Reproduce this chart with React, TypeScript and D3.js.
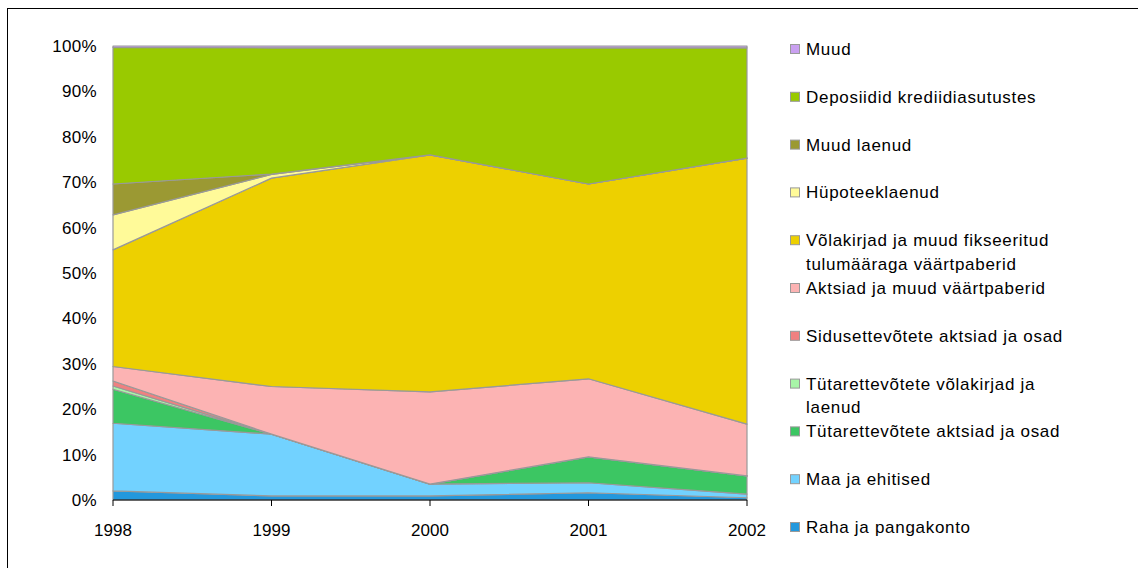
import React from "react";
import * as d3 from "d3";

const years = ["1998", "1999", "2000", "2001", "2002"];

// series values (% of total), bottom to top
const raha = [2.0, 0.9, 0.9, 1.6, 0.5];
const maa = [14.9, 13.6, 2.6, 2.2, 0.8];
const tutarAktsiad = [7.5, 0, 0, 5.7, 4.0];
const tutarVolakirjad = [0.7, 0, 0, 0, 0];
const sidusAktsiad = [1.1, 0, 0, 0, 0];
const aktsiad = [3.2, 10.5, 20.3, 17.2, 11.4];
const volakirjad = [25.7, 45.9, 52.2, 42.9, 58.6];
const hupoteek = [7.7, 0.8, 0, 0, 0];
const muudLaenud = [6.8, 0.1, 0, 0, 0];
const deposiidid = [30.1, 27.8, 23.6, 30.0, 24.3];
const muud = [0.3, 0.4, 0.4, 0.4, 0.4];

const yTicks = [0, 0.1, 0.2, 0.3, 0.4, 0.5, 0.6, 0.7, 0.8, 0.9, 1.0];

const series = [
  { key: "raha", values: raha, color: "#2398DD", label: ["Raha ja pangakonto"] },
  { key: "maa", values: maa, color: "#72D2FF", label: ["Maa ja ehitised"] },
  { key: "tutA", values: tutarAktsiad, color: "#3CC663", label: ["Tütarettevõtete aktsiad ja osad"] },
  { key: "tutV", values: tutarVolakirjad, color: "#A8F5A8", label: ["Tütarettevõtete võlakirjad ja", "laenud"] },
  { key: "sidus", values: sidusAktsiad, color: "#F08080", label: ["Sidusettevõtete aktsiad ja osad"] },
  { key: "aktsiad", values: aktsiad, color: "#FCB3B3", label: ["Aktsiad ja muud väärtpaberid"] },
  { key: "volak", values: volakirjad, color: "#EDD000", label: ["Võlakirjad ja muud fikseeritud", "tulumääraga väärtpaberid"] },
  { key: "hupo", values: hupoteek, color: "#FFFA99", label: ["Hüpoteeklaenud"] },
  { key: "muudL", values: muudLaenud, color: "#9B9933", label: ["Muud laenud"] },
  { key: "depo", values: deposiidid, color: "#99CA00", label: ["Deposiidid krediidiasutustes"] },
  { key: "muud", values: muud, color: "#C9A0F0", label: ["Muud"] },
];

export default function App() {
  const left = 113, right = 747, top = 46, bottom = 500;
  const x = d3.scalePoint<string>().domain(years).range([left, right]);
  const y = d3.scaleLinear().domain([0, 1]).range([bottom, top]);

  const rows = years.map((yr, i) => {
    const r: any = { year: yr };
    series.forEach((s) => (r[s.key] = s.values[i]));
    return r;
  });
  const stacked = d3
    .stack<any>()
    .keys(series.map((s) => s.key))
    .offset(d3.stackOffsetExpand)(rows);

  const area = d3
    .area<any>()
    .x((d) => x(d.data.year) as number)
    .y0((d) => y(d[0]))
    .y1((d) => y(d[1]));

  const fmt = d3.format(".0%");
  const font = "'Liberation Sans', Arial, sans-serif";
  const legendItems = [...series].reverse();

  return (
    <div style={{ position: "absolute", left: 0, top: 0 }}>
      <svg width={1138} height={568} style={{ display: "block", background: "#fff" }}>
        <rect x={7.5} y={8.5} width={1300} height={700} fill="#fff" stroke="#000" strokeWidth={1} />
        {stacked.map((layer, i) => (
          <path
            key={series[i].key}
            d={area(layer as any) || ""}
            fill={series[i].color}
            stroke="#999999"
            strokeWidth={1.2}
            strokeLinejoin="round"
          />
        ))}
        <line x1={left} x2={right} y1={bottom} y2={bottom} stroke="#000" strokeWidth={1.2} />
        {years.map((yr) => (
          <g key={yr}>
            <line x1={x(yr)} x2={x(yr)} y1={bottom} y2={bottom + 6} stroke="#000" strokeWidth={1} />
            <text x={x(yr)} y={536} textAnchor="middle" fontFamily={font} fontSize={17} fill="#000">
              {yr}
            </text>
          </g>
        ))}
        {yTicks.map((t) => (
          <text key={t} x={97} y={y(t) + 6} textAnchor="end" fontFamily={font} fontSize={17} letterSpacing={0.3} fill="#000">
            {fmt(t)}
          </text>
        ))}
        {legendItems.map((s, i) => {
          const cy = 49 + i * 47.8;
          return (
            <g key={s.key}>
              <rect x={790.5} y={cy - 4.5} width={9} height={9} fill={s.color} stroke="#999" strokeWidth={1} />
              {s.label.map((line, j) => (
                <text key={j} x={806} y={cy + 6 + j * 23.5} fontFamily={font} fontSize={17} letterSpacing={0.7} fill="#000">
                  {line}
                </text>
              ))}
            </g>
          );
        })}
      </svg>
    </div>
  );
}
